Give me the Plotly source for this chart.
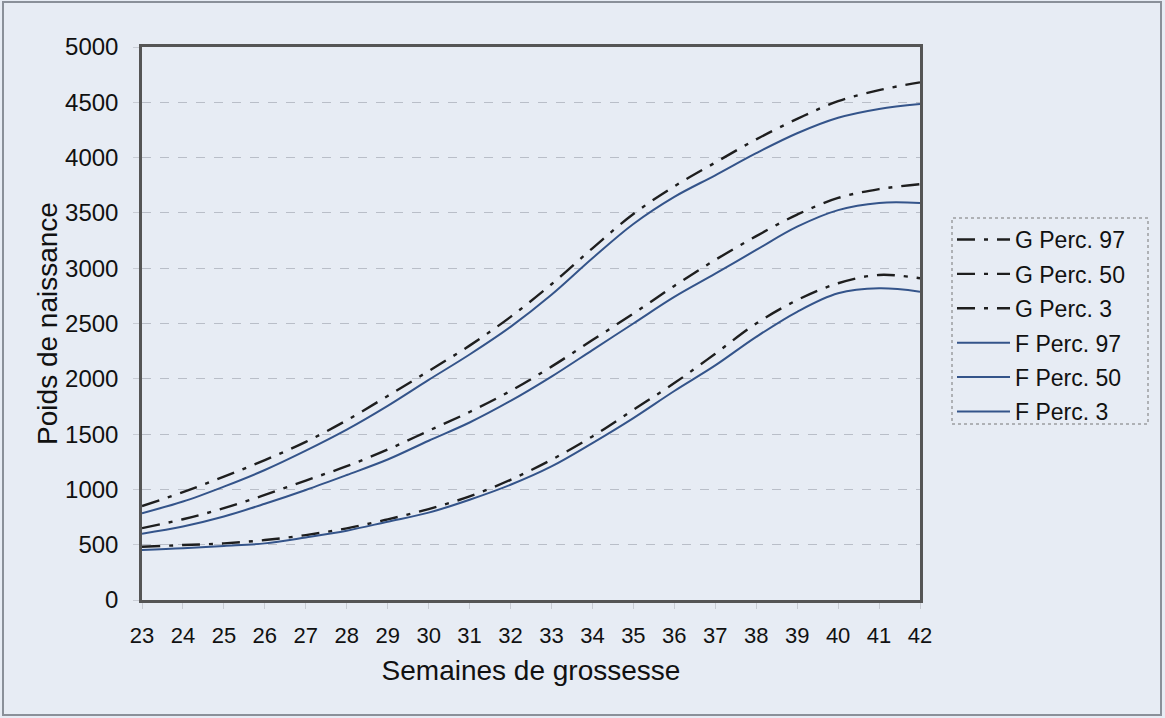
import plotly.graph_objects as go

# ----------------------------------------------------------------------------- data

semaines = list(range(23, 43))

g_perc_97 = [850, 975, 1115, 1265, 1430, 1625, 1845, 2070, 2300, 2560,
             2855, 3180, 3490, 3740, 3955, 4165, 4350, 4510, 4610, 4680]
g_perc_50 = [650, 730, 830, 950, 1080, 1210, 1360, 1530, 1700, 1890,
             2110, 2350, 2590, 2840, 3075, 3290, 3485, 3635, 3715, 3760]
g_perc_3 = [482, 497, 512, 542, 587, 648, 729, 822, 937, 1087,
            1268, 1479, 1720, 1961, 2227, 2500, 2712, 2864, 2939, 2909]

f_perc_97 = [785, 890, 1025, 1175, 1350, 1540, 1755, 1990, 2220, 2470,
             2760, 3090, 3400, 3645, 3840, 4040, 4220, 4360, 4440, 4485]
f_perc_50 = [600, 665, 755, 870, 995, 1130, 1270, 1440, 1605, 1800,
             2020, 2260, 2500, 2740, 2950, 3165, 3375, 3525, 3590, 3590]
f_perc_3 = [452, 467, 488, 512, 566, 627, 708, 790, 907, 1042,
            1208, 1419, 1645, 1890, 2121, 2379, 2606, 2773, 2818, 2788]

y_ticks = list(range(0, 5001, 500))

series = [
    ("G Perc. 97", g_perc_97, "G"),
    ("G Perc. 50", g_perc_50, "G"),
    ("G Perc. 3", g_perc_3, "G"),
    ("F Perc. 97", f_perc_97, "F"),
    ("F Perc. 50", f_perc_50, "F"),
    ("F Perc. 3", f_perc_3, "F"),
]

# ----------------------------------------------------------------------------- figure

W, H = 1165, 718
L, R, T, B = 142, 245, 47, 118
pw, ph = W - L - R, H - T - B

FONT = "Liberation Sans, Arial, sans-serif"
BG = "#e7ecf4"

fig = go.Figure()

for name, vals, sexe in series:
    if sexe == "G":
        line = dict(color="#1e1e1e", width=2.4, dash="18px,9px,4px,9px", shape="spline")
    else:
        line = dict(color="#34548a", width=2, shape="spline")
    fig.add_trace(
        go.Scatter(
            x=semaines, y=vals, mode="lines", name=name,
            line=line, legendgroup=name,
        )
    )


def px_x(p):
    return (p - L) / pw


def px_y(p):
    return (H - B - p) / ph


shapes = [
    # cadre extérieur
    dict(type="rect", xref="paper", yref="paper",
         x0=px_x(3), x1=px_x(1161), y0=px_y(715), y1=px_y(2),
         line=dict(color="#8a9099", width=2), layer="below"),
    # cadre de la légende
    dict(type="rect", xref="paper", yref="paper",
         x0=px_x(952), x1=px_x(1148), y0=px_y(424), y1=px_y(218),
         line=dict(color="#777", width=1, dash="dot")),
]

fig.update_layout(
    width=W, height=H,
    margin=dict(l=L, r=R, t=T, b=B),
    paper_bgcolor=BG, plot_bgcolor=BG,
    font=dict(family=FONT, color="#111", size=22),
    showlegend=True,
    legend=dict(
        x=px_x(952), y=px_y(218), xanchor="left", yanchor="top",
        bgcolor="rgba(0,0,0,0)", borderwidth=0,
        font=dict(size=23, color="#111"),
        traceorder="grouped", tracegroupgap=1.5,
        itemwidth=53,
    ),
    shapes=shapes,
    xaxis=dict(
        range=[23, 42], tickmode="array", tickvals=semaines,
        showgrid=False, zeroline=False,
        showline=True, mirror=True, linecolor="#555", linewidth=2.5,
        ticks="outside", ticklen=6, tickcolor="#c8ccd4",
        ticklabelstandoff=8,
        tickfont=dict(size=22),
        title=dict(text="Semaines de grossesse", font=dict(size=28), standoff=14),
    ),
    yaxis=dict(
        range=[0, 5000], tickmode="array", tickvals=y_ticks,
        showgrid=True, gridcolor="#b9bec8", griddash="dash", gridwidth=1,
        zeroline=False,
        showline=True, mirror=True, linecolor="#555", linewidth=2.5,
        ticks="outside", ticklen=6, tickcolor="#c8ccd4",
        ticklabelstandoff=10,
        tickfont=dict(size=24),
        title=dict(text="Poids de naissance", font=dict(size=28), standoff=0),
    ),
)

fig.write_html(
    "out.html",
    config={"displayModeBar": False},
    post_script="document.body.style.margin='0';",
)
